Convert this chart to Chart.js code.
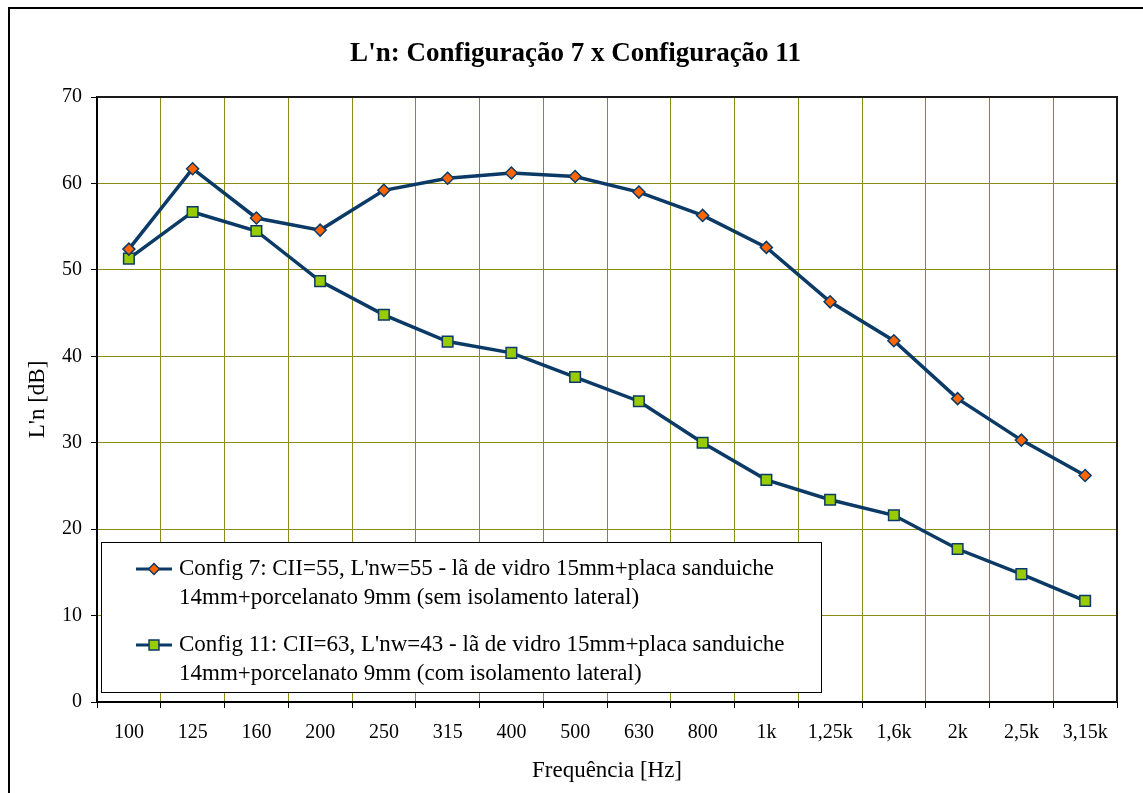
<!DOCTYPE html>
<html>
<head>
<meta charset="utf-8">
<script src="https://cdn.jsdelivr.net/npm/chart.js@4/dist/chart.umd.min.js"></script>
<style>
  html, body { margin: 0; padding: 0; background: #ffffff; }
  #wrap { width: 1143px; height: 793px; position: relative; }
</style>
</head>
<body>
<div id="wrap"><canvas id="c" width="1143" height="793"></canvas></div>
<script>
// Frequency bands (Hz)
const frequencies = ["100", "125", "160", "200", "250", "315", "400", "500", "630", "800",
                     "1k", "1,25k", "1,6k", "2k", "2,5k", "3,15k"];

// Normalized impact sound pressure level L'n [dB]
const config7 = [52.4, 61.7, 56.0, 54.6, 59.2, 60.6, 61.2, 60.8, 59.0, 56.3,
                 52.6, 46.3, 41.8, 35.1, 30.3, 26.2];
const config11 = [51.3, 56.7, 54.5, 48.7, 44.8, 41.7, 40.4, 37.6, 34.8, 30.0,
                  25.7, 23.4, 21.6, 17.7, 14.8, 11.7];

// Legend text, two lines per series
const legend7 = ["Config 7: CII=55, L'nw=55 - lã de vidro 15mm+placa sanduiche",
                 "14mm+porcelanato 9mm (sem isolamento lateral)"];
const legend11 = ["Config 11: CII=63, L'nw=43 - lã de vidro 15mm+placa sanduiche",
                  "14mm+porcelanato 9mm (com isolamento lateral)"];

const yTicks = [0, 10, 20, 30, 40, 50, 60, 70];

const SERIF = "'Liberation Serif', 'Times New Roman', serif";
const NAVY = '#0b3a66';
const GRID = '#8a8a14';

// Outer frame, plot frame and the two-line legend box
const framePlugin = {
  id: 'frame',
  afterLayout(chart) {
    // center the title over the plot area rather than the whole canvas
    if (chart.titleBlock) chart.titleBlock.left = 34;
  },
  beforeDraw(chart) {
    const ctx = chart.ctx;
    ctx.save();
    ctx.fillStyle = '#ffffff';
    ctx.fillRect(0, 0, chart.width, chart.height);
    ctx.strokeStyle = '#000000';
    ctx.lineWidth = 2;
    ctx.strokeRect(9, 8, chart.width + 20, chart.height + 20);
    ctx.restore();
  },
  afterDatasetsDraw(chart) {
    const ctx = chart.ctx;
    const a = chart.chartArea;
    ctx.save();
    ctx.strokeStyle = '#1a1a1a';
    ctx.lineWidth = 2;
    ctx.beginPath();
    ctx.moveTo(a.left, a.top);
    ctx.lineTo(a.right, a.top);
    ctx.lineTo(a.right, a.bottom);
    ctx.stroke();

    // legend
    const bx = a.left + 4, by = a.top + 445, bw = 720, bh = 150;
    ctx.fillStyle = '#ffffff';
    ctx.fillRect(bx, by, bw, bh);
    ctx.strokeStyle = '#000000';
    ctx.lineWidth = 1;
    ctx.strokeRect(bx + 0.5, by + 0.5, bw, bh);

    const entries = [legend7, legend11];
    chart.data.datasets.forEach((ds, i) => {
      const lines = entries[i];
      const y0 = by + 27 + i * 76;
      const lx1 = bx + 35, lx2 = bx + 71;
      ctx.strokeStyle = ds.borderColor;
      ctx.lineWidth = 3;
      ctx.beginPath();
      ctx.moveTo(lx1, y0);
      ctx.lineTo(lx2, y0);
      ctx.stroke();
      ctx.fillStyle = ds.pointBackgroundColor;
      ctx.strokeStyle = ds.pointBorderColor;
      ctx.lineWidth = ds.pointBorderWidth;
      Chart.helpers.drawPoint(ctx, {
        pointStyle: ds.pointStyle, radius: ds.pointRadius - 0.5,
        rotation: 0, borderWidth: ds.pointBorderWidth
      }, (lx1 + lx2) / 2, y0);
      ctx.fillStyle = '#000000';
      ctx.font = '23px ' + SERIF;
      ctx.textBaseline = 'middle';
      ctx.textAlign = 'left';
      lines.forEach((t, k) => ctx.fillText(t, bx + 78, y0 + k * 29));
    });
    ctx.restore();
  }
};

new Chart(document.getElementById('c'), {
  type: 'line',
  data: {
    labels: frequencies,
    datasets: [
      {
        label: legend7.join(' '),
        data: config7,
        borderColor: NAVY,
        borderWidth: 3.5,
        pointStyle: 'rectRot',
        pointRadius: 6,
        pointBackgroundColor: '#ff6600',
        pointBorderColor: NAVY,
        pointBorderWidth: 1.5,
        tension: 0
      },
      {
        label: legend11.join(' '),
        data: config11,
        borderColor: NAVY,
        borderWidth: 3.5,
        pointStyle: 'rect',
        pointRadius: 7.5,
        pointBackgroundColor: '#99cc00',
        pointBorderColor: NAVY,
        pointBorderWidth: 1.5,
        tension: 0
      }
    ]
  },
  options: {
    responsive: false,
    animation: false,
    layout: { padding: { left: 0, right: 26, top: 0, bottom: 0 } },
    plugins: {
      legend: { display: false },
      tooltip: { enabled: false },
      title: {
        display: true,
        text: "L'n: Configuração 7 x Configuração 11",
        color: '#000000',
        font: { family: SERIF, size: 27, weight: 'bold' },
        padding: { top: 38, bottom: 26.6 }
      }
    },
    scales: {
      x: {
        type: 'category',
        offset: true,
        grid: {
          offset: true,
          color: GRID,
          lineWidth: 1,
          tickColor: '#000000',
          tickLength: 6,
          drawOnChartArea: true
        },
        border: { color: '#000000', width: 2 },
        ticks: {
          color: '#000000',
          font: { family: SERIF, size: 20 },
          padding: 13,
          maxRotation: 0,
          autoSkip: false
        },
        title: {
          display: true,
          text: 'Frequência [Hz]',
          color: '#000000',
          font: { family: SERIF, size: 23 },
          padding: { top: 0, bottom: 8 }
        },
        afterFit(scale) { scale.height = 91; }
      },
      y: {
        min: 0,
        max: 70,
        afterBuildTicks(scale) { scale.ticks = yTicks.map(v => ({ value: v })); },
        grid: {
          color: GRID,
          lineWidth: 1,
          tickColor: '#000000',
          tickLength: 6
        },
        border: { color: '#000000', width: 2 },
        ticks: {
          color: '#000000',
          font: { family: SERIF, size: 20 },
          padding: 9
        },
        title: {
          display: true,
          text: "L'n [dB]",
          color: '#000000',
          font: { family: SERIF, size: 23 },
          padding: { top: 24, bottom: 0 }
        },
        afterFit(scale) { scale.width = 97; }
      }
    }
  },
  plugins: [framePlugin]
});
</script>
</body>
</html>
